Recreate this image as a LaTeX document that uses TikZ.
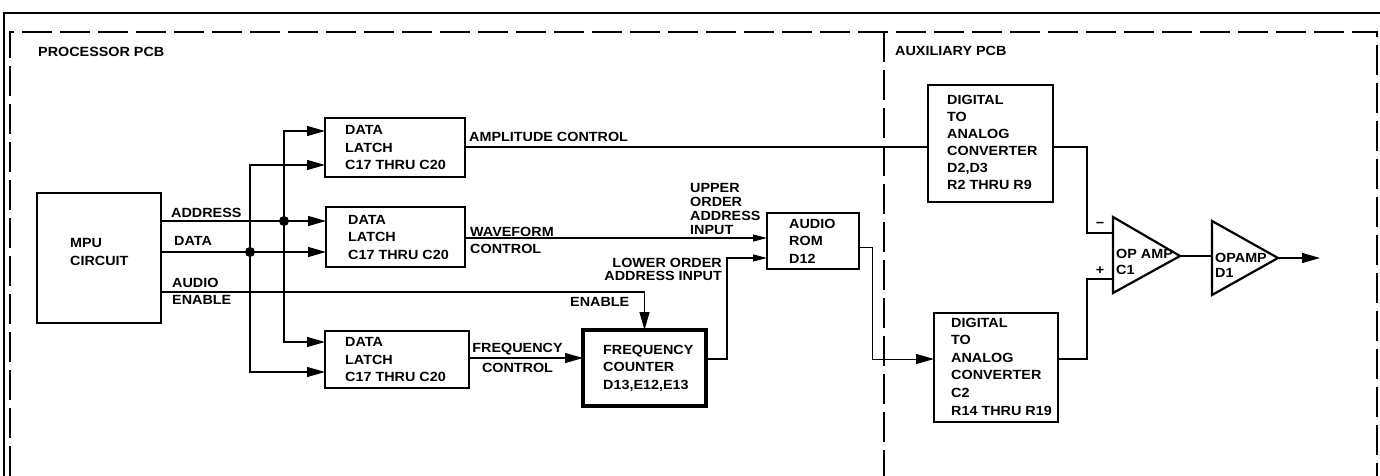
\documentclass[tikz,border=0pt]{standalone}
\usepackage{fontspec}
\setmainfont{Liberation Sans}[FakeStretch=1.08]
\usetikzlibrary{arrows.meta}
\tikzset{
  blk/.style={draw, line width=2.2pt, outer sep=0pt, inner sep=0pt},
  txt/.style={font=\fontsize{13.3}{17.5}\selectfont\bfseries, inner sep=0pt, align=left},
  conn/.style={line width=1.3pt},
  thinconn/.style={line width=1pt},
  arr/.style={-{Triangle[length=18pt,width=10pt]}},
  sarr/.style={-{Triangle[length=14pt,width=7pt]}},
  jdot/.style={circle, fill, inner sep=0pt, minimum size=10pt},
  solidframe/.style={line width=1.6pt},
  dashframe/.style={line width=2.2pt, dash pattern=on 30pt off 8pt},
  amp/.style={line width=2.2pt, line join=miter},
}
\begin{document}
\begin{tikzpicture}[x=1pt,y=-1pt]
\useasboundingbox (0,0) rectangle (1380,476);
\fill[white] (0,0) rectangle (1380,476);

% frames
\draw[solidframe] (4,476) -- (4,13) -- (1380,13);
\draw[dashframe] (10,476) -- (10,32) -- (1377,32) -- (1377,476);
\draw[dashframe] (884,32) -- (884,476);
\node[txt, anchor=base west] (tProc) at (38,57) {PROCESSOR PCB};
\node[txt, anchor=base west] (tAux) at (895,56) {AUXILIARY PCB};

% blocks
\node[blk, minimum width=124pt, minimum height=130pt] (mpu) at (99,258) {};
\node[txt, anchor=west, yshift=6pt] (mpuT) at ([xshift=33pt]mpu.west) {MPU\\CIRCUIT};

\node[blk, minimum width=140pt, minimum height=59pt] (latch1) at (395,147.5) {};
\node[txt, anchor=west] (latch1T) at ([xshift=20pt]latch1.west) {DATA\\LATCH\\C17 THRU C20};

\node[blk, minimum width=139pt, minimum height=60pt] (latch2) at (395.5,237) {};
\node[txt, anchor=west] (latch2T) at ([xshift=22pt]latch2.west) {DATA\\LATCH\\C17 THRU C20};

\node[blk, minimum width=144pt, minimum height=57pt] (latch3) at (397,359.5) {};
\node[txt, anchor=west] (latch3T) at ([xshift=20pt]latch3.west) {DATA\\LATCH\\C17 THRU C20};

\node[blk, minimum width=92pt, minimum height=56pt] (rom) at (813,241) {};
\node[txt, anchor=west] (romT) at ([xshift=22pt]rom.west) {AUDIO\\ROM\\D12};

\node[blk, line width=3.2pt, minimum width=123pt, minimum height=76pt] (fc) at (644.5,368) {};
\node[txt, anchor=west] (fcT) at ([xshift=20pt]fc.west) {FREQUENCY\\COUNTER\\D13,E12,E13};

\node[blk, minimum width=125pt, minimum height=117pt] (dac1) at (990.5,143.5) {};
\node[txt, anchor=west, yshift=1.5pt, font=\fontsize{13.3}{17}\selectfont\bfseries] (dac1T) at ([xshift=19pt]dac1.west) {DIGITAL\\TO\\ANALOG\\CONVERTER\\D2,D3\\R2 THRU R9};

\node[blk, minimum width=124pt, minimum height=109pt] (dac2) at (996,367.5) {};
\node[txt, anchor=west, yshift=1pt, font=\fontsize{13.3}{17.6}\selectfont\bfseries] (dac2T) at ([xshift=17pt]dac2.west) {DIGITAL\\TO\\ANALOG\\CONVERTER\\C2\\R14 THRU R19};

% op amps
\draw[amp] (1113,217) -- (1180,256) -- (1113,293) -- cycle;
\draw[amp] (1212,221) -- (1278,258) -- (1212,295) -- cycle;
\coordinate (c1m) at (1113,233);
\coordinate (c1p) at (1113,279);
\coordinate (c1o) at (1180,256);
\coordinate (d1i) at (1212,256);
\coordinate (d1o) at (1278,258);
\coordinate (outEnd) at (1320,258);
\node[txt, anchor=north west, font=\fontsize{13.3}{16}\selectfont\bfseries] (c1T) at (1116,248.7) {OP AMP\\C1};
\node[txt, anchor=north west, font=\fontsize{13.3}{15}\selectfont\bfseries] (d1T) at (1215,252.7) {OPAMP\\D1};
\node[txt] (tMinus) at (1100,225) {−};
\node[txt] (tPlus) at (1100,271) {+};

% helper coordinates
\coordinate (yAddr) at (0,221);
\coordinate (yData) at (0,252);
\coordinate (yAud) at (0,292);
\coordinate (y1a) at (0,131);
\coordinate (y1b) at (0,165);
\coordinate (y3a) at (0,342);
\coordinate (y3b) at (0,372);
\coordinate (yAmp) at (0,147);
\coordinate (yWave) at (0,238);
\coordinate (yFreq) at (0,358);
\coordinate (yFC) at (0,359);
\coordinate (yRom) at (0,247);
\coordinate (cLow) at (727,258);
\coordinate (cRom) at (872,359);
\coordinate (cM) at (1087,233);
\coordinate (cP) at (1087,279);

% junctions
\node[jdot] (jA) at (284,221) {};
\node[jdot] (jD) at (250,252) {};

% connectors
\draw[conn,arr] (mpu.east |- yAddr) -- (latch2.west |- yAddr);
\draw[conn,arr] (mpu.east |- yData) -- (latch2.west |- yData);
\draw[conn,arr] (jA.center) |- (latch1.west |- y1a);
\draw[conn,arr] (jA.center) |- (latch3.west |- y3a);
\draw[conn,arr] (jD.center) |- (latch1.west |- y1b);
\draw[conn,arr] (jD.center) |- (latch3.west |- y3b);
\draw[conn,arr] (mpu.east |- yAud) -| (fc.north);
\draw[conn] (latch1.east |- yAmp) -- (dac1.west |- yAmp);
\draw[conn,sarr] (latch2.east |- yWave) -- (rom.west |- yWave);
\draw[conn,arr] (latch3.east |- yFreq) -- (fc.west |- yFreq);
\draw[conn,sarr] (fc.east |- yFC) -| (cLow) -- (rom.west |- cLow);
\draw[thinconn,arr] (rom.east |- yRom) -| (cRom) -- (dac2.west |- cRom);
\draw[conn] (dac1.east |- yAmp) -| (cM) -- (c1m);
\draw[conn] (dac2.east |- cRom) -| (cP) -- (c1p);
\draw[conn] (c1o) -- (d1i);
\draw[conn,arr] (d1o) -- (outEnd);

% connector labels
\node[txt, anchor=base west] (tAddr) at (171,217) {ADDRESS};
\node[txt, anchor=base west] (tData) at (174,245) {DATA};
\node[txt, anchor=north west, font=\fontsize{13.3}{17}\selectfont\bfseries] (tAud) at (172,277.7) {AUDIO\\ENABLE};
\node[txt, anchor=base west] (tEn) at (570,306) {ENABLE};
\node[txt, anchor=base west] (tAmp) at (469,142) {AMPLITUDE CONTROL};
\node[txt, anchor=north west, font=\fontsize{13.3}{17}\selectfont\bfseries] (tWave) at (470,226.7) {WAVEFORM\\CONTROL};
\node[txt, anchor=north west, font=\fontsize{13.3}{14}\selectfont\bfseries] (tUp) at (690,182.7) {UPPER\\ORDER\\ADDRESS\\INPUT};
\node[txt, anchor=north east, align=right, font=\fontsize{13.3}{13}\selectfont\bfseries] (tLow) at (722,257.7) {LOWER ORDER\\ADDRESS INPUT};
\node[txt, anchor=north, align=center] (tFreq) at (517.5,342.7) {FREQUENCY\\[2.5pt]CONTROL};
\end{tikzpicture}
\end{document}
